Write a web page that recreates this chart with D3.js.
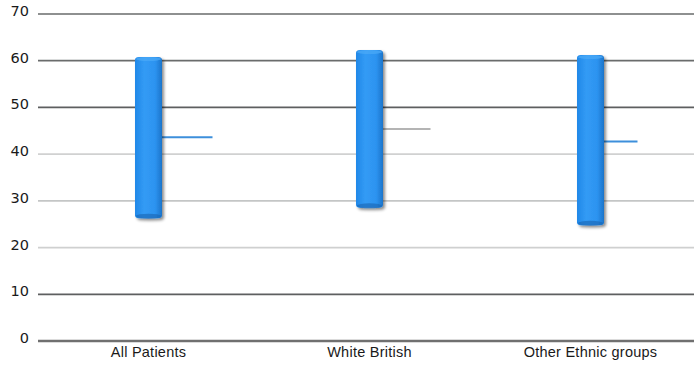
<!DOCTYPE html>
<html>
<head>
<meta charset="utf-8">
<script src="https://cdn.jsdelivr.net/npm/d3@7"></script>
<style>
  html, body { margin: 0; padding: 0; background: #fff; }
  svg { display: block; }
</style>
</head>
<body>
<svg id="chart" width="694" height="365"></svg>
<script>
// Age ranges (low–high) with a mean marker per patient group
const categories = ["All Patients", "White British", "Other Ethnic groups"];
const lowValues  = [26.3, 28.5, 24.8];
const highValues = [60.8, 62.3, 61.2];
const meanValues = [43.6, 45.4, 42.7];
const yTicks = [0, 10, 20, 30, 40, 50, 60, 70];

// Drawing styles
const gridColors = { 0: "#6f7070", 10: "#5d5f60", 20: "#cfd0d0", 30: "#c4c6c6", 40: "#d0d1d1", 50: "#5d5f60", 60: "#6a6c6c", 70: "#8e9090" };
const meanColors = ["#3d8fdb", "#b4b4b4", "#3d8fdb"];

const svg = d3.select("#chart");
const defs = svg.append("defs");

const grad = defs.append("linearGradient").attr("id", "barGrad")
  .attr("x1", "0").attr("x2", "1").attr("y1", "0").attr("y2", "0");
grad.append("stop").attr("offset", "0%").attr("stop-color", "#2088e8");
grad.append("stop").attr("offset", "35%").attr("stop-color", "#339bf5");
grad.append("stop").attr("offset", "75%").attr("stop-color", "#2c93f0");
grad.append("stop").attr("offset", "100%").attr("stop-color", "#1c74ca");

const shadow = defs.append("filter").attr("id", "shadow")
  .attr("x", "-50%").attr("y", "-10%").attr("width", "200%").attr("height", "130%");
shadow.append("feDropShadow").attr("dx", 2).attr("dy", 2)
  .attr("stdDeviation", 1.5).attr("flood-color", "#000").attr("flood-opacity", 0.45);

const soft = defs.append("filter").attr("id", "soft");
soft.append("feGaussianBlur").attr("stdDeviation", 0.5);

const plotLeft = 46, plotRight = 694, plotTop = 14, plotBottom = 341;

const y = d3.scaleLinear().domain([0, 70]).range([plotBottom, plotTop]);
const x = d3.scaleBand().domain(categories).range([38, 701]);

// Horizontal grid lines
const grid = svg.append("g").attr("filter", "url(#soft)");
grid.selectAll("line").data(yTicks).join("line")
  .attr("x1", 38).attr("x2", plotRight)
  .attr("y1", d => y(d)).attr("y2", d => y(d))
  .attr("stroke", d => gridColors[d])
  .attr("stroke-width", d => d === 0 ? 2.4 : 1.8);

// Vertical axis line
svg.append("line")
  .attr("x1", plotLeft).attr("x2", plotLeft)
  .attr("y1", plotTop).attr("y2", plotBottom)
  .attr("stroke", "#8d8f8f").attr("stroke-width", 2).attr("filter", "url(#soft)");

// Y axis labels
const yAxis = d3.axisLeft(y).tickValues(yTicks).tickSize(0).tickPadding(0);
const yg = svg.append("g").attr("transform", `translate(29,0)`).call(yAxis);
yg.select(".domain").remove();
yg.selectAll("text")
  .attr("font-family", "DejaVu Sans, Verdana, sans-serif")
  .attr("font-size", 14.5).attr("fill", "#1a1a1a").attr("dy", "0.1em");

// X axis labels
const xAxis = d3.axisBottom(x).tickSize(0).tickPadding(0);
const xg = svg.append("g").attr("transform", `translate(0,${plotBottom + 4})`).call(xAxis);
xg.select(".domain").remove();
xg.selectAll("text")
  .attr("font-family", "Liberation Sans, Arial, sans-serif")
  .attr("font-size", 14.5).attr("fill", "#1a1a1a")
  .attr("letter-spacing", 0.25).attr("dy", "0.85em");

const barW = 27;
const cx = c => x(c) + x.bandwidth() / 2;

// Mean markers
svg.append("g").selectAll("line").data(categories).join("line")
  .attr("x1", c => cx(c) + barW / 2 - 1)
  .attr("x2", (c, i) => cx(c) + [64, 61, 47][i])
  .attr("y1", (c, i) => y(meanValues[i]))
  .attr("y2", (c, i) => y(meanValues[i]))
  .attr("stroke", (c, i) => meanColors[i])
  .attr("stroke-width", 2);

// Range bars as cylinders
const bars = svg.append("g").selectAll("g").data(categories).join("g")
  .attr("filter", "url(#shadow)");
bars.append("rect")
  .attr("x", c => cx(c) - barW / 2)
  .attr("width", barW)
  .attr("y", (c, i) => y(highValues[i]))
  .attr("height", (c, i) => y(lowValues[i]) - y(highValues[i]))
  .attr("rx", 4).attr("ry", 3)
  .attr("fill", "url(#barGrad)");
bars.append("ellipse")
  .attr("cx", cx)
  .attr("cy", (c, i) => y(highValues[i]) + 2)
  .attr("rx", barW / 2 - 1).attr("ry", 2)
  .attr("fill", "#49a7f6").attr("opacity", 0.8);
bars.append("ellipse")
  .attr("cx", cx)
  .attr("cy", (c, i) => y(lowValues[i]) - 2)
  .attr("rx", barW / 2 - 1).attr("ry", 2.5)
  .attr("fill", "#1a64b0").attr("opacity", 0.6);
</script>
</body>
</html>
